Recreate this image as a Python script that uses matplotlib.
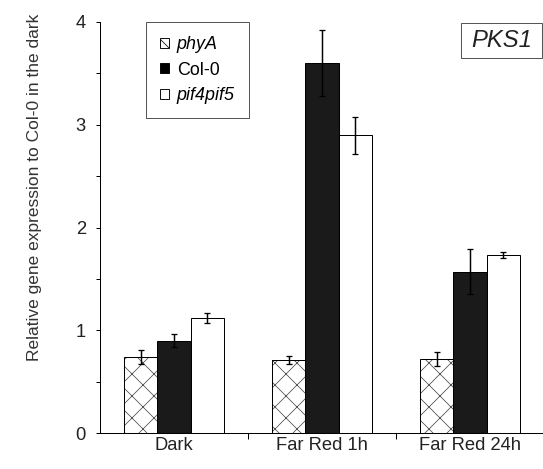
import numpy as np
import matplotlib
matplotlib.use("Agg")
import matplotlib.pyplot as plt
from matplotlib.patches import Patch, Rectangle

plt.rcParams['font.family'] = ['Liberation Sans', 'DejaVu Sans']
plt.rcParams['hatch.linewidth'] = 0.8

# data
conditions = ['Dark', 'Far Red 1h', 'Far Red 24h']
genotypes = ['phyA', 'Col-0', 'pif4pif5']
phyA = [0.74, 0.71, 0.72]
phyA_err = [0.07, 0.04, 0.07]
col0 = [0.90, 3.60, 1.57]
col0_err = [0.06, 0.32, 0.22]
pif = [1.12, 2.90, 1.73]
pif_err = [0.05, 0.18, 0.03]
yticks = [0, 1, 2, 3, 4]

DPI = 66
fig = plt.figure(figsize=(543 / DPI, 469 / DPI), dpi=DPI)
ax = fig.add_axes([100 / 543, 36 / 469, 444 / 543, 411 / 469])

x = np.arange(len(conditions)) + 0.5
w = 0.226
err_kw = dict(ecolor='black', elinewidth=1.6, capsize=3.8, capthick=1.4)

# hatched bars: gray hatch, then black outline on top
ax.bar(x - w, phyA, w, color='white', edgecolor='#444444', hatch='x', linewidth=0)
ax.bar(x - w, phyA, w, fill=False, edgecolor='black', linewidth=1.1,
       yerr=phyA_err, error_kw=err_kw)
ax.bar(x, col0, w, color='#1a1a1a', edgecolor='black', linewidth=1.1,
       yerr=col0_err, error_kw=err_kw)
ax.bar(x + w, pif, w, color='white', edgecolor='black', linewidth=1.1,
       yerr=pif_err, error_kw=err_kw)

ax.set_xlim(0, 3)
ax.set_ylim(0, 4)
ax.spines['top'].set_visible(False)
ax.spines['right'].set_visible(False)
for s in ['left', 'bottom']:
    ax.spines[s].set_linewidth(1.1)

ax.set_yticks(yticks)
ax.set_yticks(np.arange(0.5, 4, 1), minor=True)
ax.tick_params(axis='y', which='both', direction='out', length=4.5, width=1.1,
               labelsize=20, pad=11, labelcolor='#222222')
ax.set_xticks([1, 2])
ax.set_xticklabels([])
ax.set_xticks(x, minor=True)
ax.set_xticklabels(conditions, minor=True)
ax.tick_params(axis='x', which='major', direction='out', length=6, width=1.1)
ax.tick_params(axis='x', which='minor', length=0, labelsize=20, pad=4,
               labelcolor='#222222')

fig.text(34 / 543, 1 - 187 / 469, 'Relative gene expression to Col-0 in the dark',
         rotation=90, ha='center', va='center', fontsize=19, color='#333333')

handles = [Patch(facecolor='white', edgecolor='black', hatch='\\\\'),
           Patch(facecolor='black', edgecolor='black'),
           Patch(facecolor='white', edgecolor='black')]
leg = ax.legend(handles, genotypes, loc='upper left', bbox_to_anchor=(46 / 444, 1.0),
                borderaxespad=0, fancybox=False, edgecolor='#555555', framealpha=1,
                fontsize=19.5, handlelength=0.5, handleheight=0.5, handletextpad=0.45,
                labelspacing=0.48, borderpad=0.78)
leg.get_frame().set_linewidth(1.1)
for t, txt in zip(leg.get_texts(), genotypes):
    if txt != 'Col-0':
        t.set_fontstyle('italic')

# gene name box, top right
ax.add_patch(Rectangle((0.813, 0.912), 0.182, 0.086, transform=ax.transAxes,
                       facecolor='white', edgecolor='#555555', linewidth=1.1,
                       clip_on=False, zorder=5))
ax.text(0.904, 0.955, 'PKS1', transform=ax.transAxes, ha='center', va='center',
        fontsize=26, fontstyle='italic', color='#222222', zorder=6)

fig.savefig('out.png', dpi=DPI)
